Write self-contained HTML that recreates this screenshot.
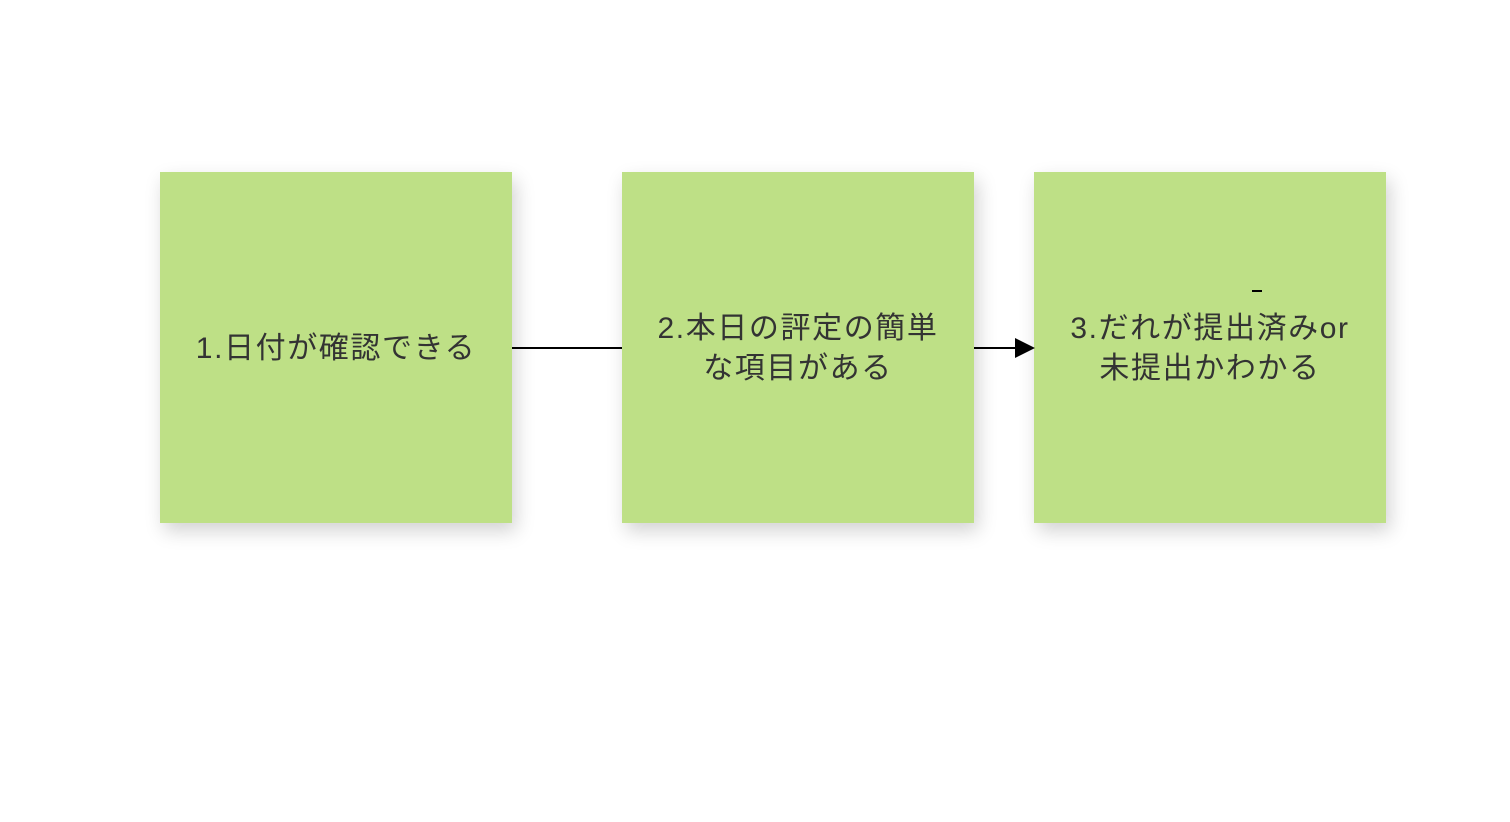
<!DOCTYPE html>
<html><head><meta charset="utf-8"><style>
body{margin:0;width:1510px;height:822px;background:#fff;position:relative;overflow:hidden;font-family:"Liberation Sans","Noto Sans CJK JP",sans-serif;}
.b{position:absolute;top:172px;width:352px;height:351px;background:#bee086;box-shadow:4px 8px 18px rgba(0,0,0,0.18);display:flex;align-items:center;justify-content:center;text-align:center;color:#333;font-size:30px;letter-spacing:1.6px;line-height:40px;padding-top:3px;box-sizing:border-box;}
.l{position:absolute;height:2px;background:#000;top:347px;}
</style></head><body>
<div class="b" style="left:160px">1.日付が確認できる</div>
<div class="b" style="left:622px">2.本日の評定の簡単<br>な項目がある</div>
<div class="b" style="left:1034px">3.だれが提出済みor<br>未提出かわかる</div>
<div class="l" style="left:512px;width:110px"></div>
<div class="l" style="left:974px;width:42px"></div>
<div style="position:absolute;left:1015px;top:338px;width:0;height:0;border-top:10px solid transparent;border-bottom:10px solid transparent;border-left:20px solid #000"></div>
<div style="position:absolute;left:1252px;top:290px;width:10px;height:2px;background:#000"></div>
</body></html>
